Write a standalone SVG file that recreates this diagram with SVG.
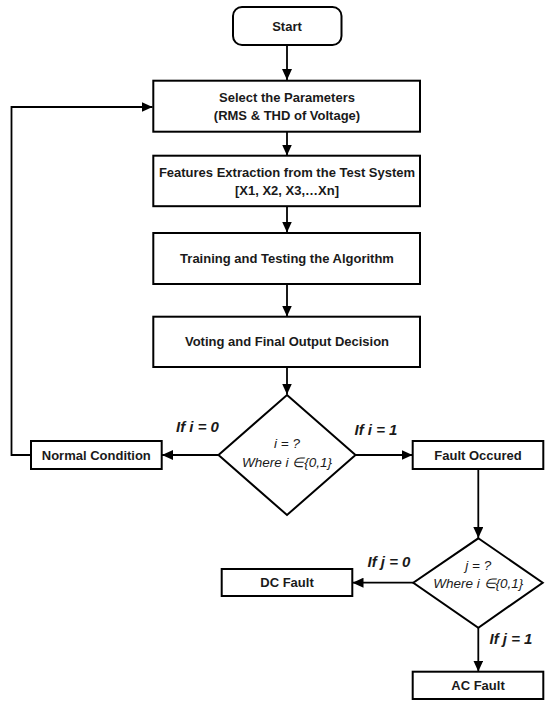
<svg xmlns="http://www.w3.org/2000/svg" width="550" height="707" viewBox="0 0 550 707">
<style>
.box{fill:#fff;stroke:#000;stroke-width:2}
.t{font-family:"Liberation Sans",Arial,sans-serif;font-weight:bold;font-size:13px;fill:#1a1a1a;text-anchor:middle}
.lbl{font-family:"Liberation Sans",Arial,sans-serif;font-weight:bold;font-style:italic;font-size:15px;fill:#1a1a1a;text-anchor:middle}
.dt{font-family:"Liberation Sans",Arial,sans-serif;font-style:italic;font-size:13.5px;fill:#1a1a1a;text-anchor:middle}
.c{fill:none;stroke:#000;stroke-width:1.8}
</style>
<defs>
<marker id="ah" markerUnits="userSpaceOnUse" markerWidth="12" markerHeight="10" refX="11" refY="5" orient="auto">
<path d="M0,0 L11,5 L0,10 Z" fill="#000"/>
</marker>
</defs>
<rect width="550" height="707" fill="#fff"/>
<g id="connectors">
<line class="c" x1="287" y1="45" x2="287" y2="80" marker-end="url(#ah)"/>
<line class="c" x1="287" y1="132" x2="287" y2="155.5" marker-end="url(#ah)"/>
<line class="c" x1="287" y1="206" x2="287" y2="232.5" marker-end="url(#ah)"/>
<line class="c" x1="287" y1="284" x2="287" y2="316.5" marker-end="url(#ah)"/>
<line class="c" x1="287" y1="367" x2="287" y2="394.5" marker-end="url(#ah)"/>
<line class="c" x1="218.5" y1="455" x2="162" y2="455" marker-end="url(#ah)"/>
<line class="c" x1="355.5" y1="455" x2="412.5" y2="455" marker-end="url(#ah)"/>
<polyline class="c" points="31,455 11.5,455 11.5,107 152.5,107" marker-end="url(#ah)"/>
<line class="c" x1="478.3" y1="469" x2="478.3" y2="538" marker-end="url(#ah)"/>
<line class="c" x1="413.5" y1="582.7" x2="352.5" y2="582.7" marker-end="url(#ah)"/>
<line class="c" x1="478.3" y1="628" x2="478.3" y2="671.5" marker-end="url(#ah)"/>
</g>
<g id="start">
<rect class="box" x="233" y="7" width="108.5" height="38" rx="9"/>
<text class="t" x="287" y="31">Start</text>
</g>
<g id="select">
<rect class="box" x="153.3" y="80.7" width="266.7" height="51"/>
<text class="t" x="287" y="101.5">Select the Parameters</text>
<text class="t" x="287" y="119.5">(RMS &amp; THD of Voltage)</text>
</g>
<g id="features">
<rect class="box" x="153.3" y="155.7" width="266.7" height="50.5"/>
<text class="t" x="287" y="176.5">Features Extraction from the Test System</text>
<text class="t" x="287" y="194.5">[X1, X2, X3,…Xn]</text>
</g>
<g id="training">
<rect class="box" x="153.3" y="233" width="266.7" height="51"/>
<text class="t" x="287" y="263">Training and Testing the Algorithm</text>
</g>
<g id="voting">
<rect class="box" x="153.3" y="316.7" width="266.7" height="50.3"/>
<text class="t" x="287" y="345.5">Voting and Final Output Decision</text>
</g>
<g id="decision1">
<polygon class="box" points="287,395 355.5,455 287,515 218.5,455"/>
<text class="dt" x="287" y="448">i = ?</text>
<text class="dt" x="287" y="467">Where i ∈{0,1}</text>
</g>
<g id="normal">
<rect class="box" x="31" y="441" width="130.7" height="28"/>
<text class="t" x="96.3" y="459.5">Normal Condition</text>
</g>
<g id="fault">
<rect class="box" x="412.7" y="441" width="130.6" height="28"/>
<text class="t" x="478" y="459.5">Fault Occured</text>
</g>
<g id="decision2">
<polygon class="box" points="478.3,538.3 542.7,582.7 478.3,627.7 413.3,582.7"/>
<text class="dt" x="478.3" y="570">j = ?</text>
<text class="dt" x="478.3" y="588">Where i ∈{0,1}</text>
</g>
<g id="dc">
<rect class="box" x="221.7" y="569" width="130.6" height="27"/>
<text class="t" x="287" y="587">DC Fault</text>
</g>
<g id="ac">
<rect class="box" x="412.7" y="671.7" width="130.6" height="27.3"/>
<text class="t" x="478" y="690">AC Fault</text>
</g>
<g id="labels">
<text class="lbl" x="197.5" y="432">If i = 0</text>
<text class="lbl" x="376" y="435">If i = 1</text>
<text class="lbl" x="389" y="566.5">If j = 0</text>
<text class="lbl" x="511" y="644">If j = 1</text>
</g>
</svg>
